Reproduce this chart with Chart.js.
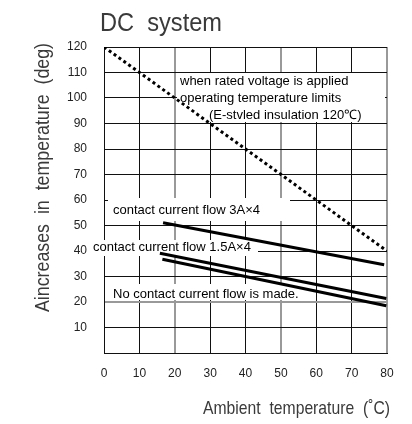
<!DOCTYPE html>
<html>
<head>
<meta charset="utf-8">
<script src="https://cdn.jsdelivr.net/npm/chart.js@4/dist/chart.umd.min.js"></script>
<style>
  html, body { margin:0; padding:0; background:#fff; }
  #wrap { width:412px; height:424px; position:relative; }
</style>
</head>
<body>
<div id="wrap"><canvas id="chart"></canvas></div>
<script>
// ticks
const xTicks = [0, 10, 20, 30, 40, 50, 60, 70, 80];
const yTicks = [0, 10, 20, 30, 40, 50, 60, 70, 80, 90, 100, 110, 120];
const grayX = [20, 50, 80];
const grayY = [20];

// curves (ambient temp -> temperature rise)
const limitX  = [0, 80];
const limitY  = [120, 40];
const flow3X  = [16.7, 79.2];
const flow3Y  = [51.1, 34.6];
const flow15X = [15.8, 79.8];
const flow15Y = [39.1, 21.4];
const noneX   = [16.5, 79.8];
const noneY   = [36.8, 18.5];

const FONT = '"Liberation Sans", Arial, sans-serif';

const pts = (xs, ys) => xs.map((x, i) => ({ x, y: ys[i] }));

// white boxes behind the notes (the grid is blanked there), then the notes
const notes = [
  { text: 'when rated voltage is applied', x: 180, y: 81 },
  { text: 'operating temperature limits', x: 180, y: 98 },
  { text: '(E-stvled insulation 120℃)', x: 209, y: 115 },
  { text: 'contact current flow 3A×4', x: 113, y: 210 },
  { text: 'contact current flow 1.5A×4', x: 93, y: 247 },
  { text: 'No contact current flow is made.', x: 113, y: 294 },
];
const masks = [
  [177, 73, 208, 49],
  [108, 198, 182, 23],
  [92, 240, 166, 16],
  [108, 284, 197, 16],
];

// draw text squeezed into a given width (the original font is narrow)
function fitText(c, text, x, y, w) {
  const m = c.measureText(text).width;
  c.save();
  c.translate(x, y);
  c.scale(w / m, 1);
  c.fillText(text, 0, 0);
  c.restore();
}

const notesPlugin = {
  id: 'notes',
  beforeDatasetsDraw(chart) {
    const c = chart.ctx;
    c.save();
    c.fillStyle = '#fff';
    masks.forEach(m => c.fillRect(m[0], m[1], m[2], m[3]));
    c.restore();
  },
  afterDatasetsDraw(chart) {
    const c = chart.ctx;
    c.save();
    c.fillStyle = '#000';
    c.font = '13px ' + FONT;
    c.textBaseline = 'middle';
    c.textAlign = 'left';
    notes.forEach(n => c.fillText(n.text, n.x, n.y));

    // titles
    c.fillStyle = '#3a3a3a';
    c.font = '25px ' + FONT;
    fitText(c, 'DC  system', 100, 24, 122);

    c.font = '19px ' + FONT;
    fitText(c, 'Ambient  temperature  (˚C)', 203, 409, 187);

    c.translate(43, 312);
    c.rotate(-Math.PI / 2);
    c.font = '20px ' + FONT;
    fitText(c, 'Aincreases  in  temperature  (deg)', 0, 0, 269);
    c.restore();
  }
};

new Chart(document.getElementById('chart').getContext('2d'), {
  type: 'line',
  data: {
    datasets: [
      { data: pts(limitX, limitY), borderColor: '#000', borderWidth: 3, borderDash: [3, 3], pointRadius: 0 },
      { data: pts(flow3X, flow3Y), borderColor: '#000', borderWidth: 3, pointRadius: 0 },
      { data: pts(flow15X, flow15Y), borderColor: '#000', borderWidth: 3, pointRadius: 0 },
      { data: pts(noneX, noneY), borderColor: '#000', borderWidth: 3, pointRadius: 0 },
    ]
  },
  options: {
    responsive: true, maintainAspectRatio: false, animation: false,
    layout: { padding: { left: 0, right: 25, top: 47, bottom: 0 } },
    plugins: { legend: { display: false }, tooltip: { enabled: false } },
    scales: {
      x: {
        type: 'linear', min: 0, max: 80,
        afterBuildTicks: s => { s.ticks = xTicks.map(v => ({ value: v })); },
        afterFit: s => { s.height = 71; },
        border: { display: true, color: '#111', width: 1 },
        grid: {
          drawTicks: false,
          color: ctx => grayX.includes(ctx.tick.value) ? '#999' : '#111',
          lineWidth: ctx => grayX.includes(ctx.tick.value) ? 2 : 1
        },
        ticks: { color: '#222', font: { family: FONT, size: 12 }, padding: 13 }
      },
      y: {
        type: 'linear', min: 0, max: 120,
        afterBuildTicks: s => { s.ticks = yTicks.map(v => ({ value: v })); },
        afterFit: s => { s.width = 104; },
        border: { display: true, color: '#111', width: 1 },
        grid: {
          drawTicks: false,
          color: ctx => grayY.includes(ctx.tick.value) ? '#999' : '#111',
          lineWidth: ctx => grayY.includes(ctx.tick.value) ? 2 : 1
        },
        ticks: {
          color: '#222', font: { family: FONT, size: 12 }, padding: 17,
          callback: v => v === 0 ? '' : v
        }
      }
    }
  },
  plugins: [notesPlugin]
});
</script>
</body>
</html>
